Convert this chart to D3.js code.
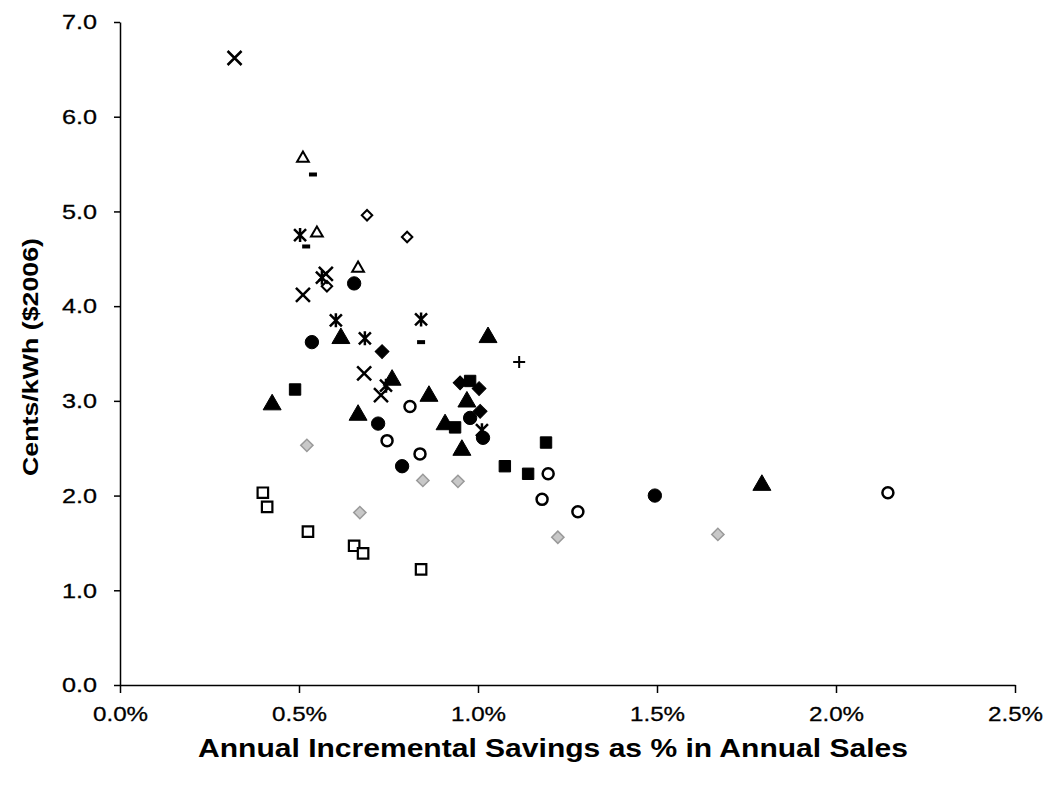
<!DOCTYPE html>
<html>
<head>
<meta charset="utf-8">
<script src="https://cdn.jsdelivr.net/npm/d3@7"></script>
<style>
  body { margin: 0; background: #fff; }
  text { font-family: "Liberation Sans", Arial, sans-serif; }
</style>
</head>
<body>
<div id="chart"></div>
<script>
// x = annual incremental savings (% of sales), y = cents/kWh ($2006)
const crossX = [0.32, 0.511, 0.682, 0.575, 0.729];
const crossY = [6.62, 4.12, 3.29, 4.34, 3.06];
const asteriskX = [0.503, 0.564, 0.603, 0.684, 0.841, 0.743, 1.011];
const asteriskY = [4.75, 4.30, 3.85, 3.66, 3.86, 3.16, 2.69];
const openTriX = [0.511, 0.550, 0.665];
const openTriY = [5.56, 4.77, 4.40];
const dashX = [0.539, 0.520, 0.841];
const dashY = [5.39, 4.63, 3.62];
const openDiaX = [0.690, 0.802, 0.578];
const openDiaY = [4.96, 4.73, 4.21];
const dotX = [0.654, 0.536, 0.721, 0.788, 0.978, 1.014, 1.494];
const dotY = [4.24, 3.62, 2.76, 2.31, 2.82, 2.61, 2.00];
const triX = [0.617, 0.760, 0.863, 1.028, 0.969, 0.908, 0.955, 0.425, 0.665, 1.793];
const triY = [3.66, 3.22, 3.05, 3.67, 2.99, 2.75, 2.48, 2.96, 2.85, 2.11];
const diaX = [0.732, 0.950, 1.003, 1.006];
const diaY = [3.52, 3.19, 3.13, 2.89];
const sqX = [0.489, 0.978, 0.936, 1.190, 1.075, 1.140];
const sqY = [3.12, 3.21, 2.72, 2.56, 2.31, 2.23];
const plusX = [1.115];
const plusY = [3.41];
const ringX = [0.810, 0.746, 0.838, 1.196, 1.179, 1.279, 2.145];
const ringY = [2.94, 2.58, 2.44, 2.23, 1.96, 1.83, 2.03];
const openSqX = [0.399, 0.411, 0.525, 0.654, 0.679, 0.841];
const openSqY = [2.03, 1.88, 1.62, 1.47, 1.39, 1.22];
const grayDiaX = [0.522, 0.846, 0.944, 0.670, 1.670, 1.223];
const grayDiaY = [2.53, 2.16, 2.15, 1.82, 1.59, 1.56];

const xTicks = [0, 0.5, 1.0, 1.5, 2.0, 2.5];
const yTicks = [0, 1, 2, 3, 4, 5, 6, 7];

const width = 1049, height = 788;
const margin = {top: 22, right: 34, bottom: 103, left: 120};

const svg = d3.select("#chart").append("svg")
    .attr("width", width)
    .attr("height", height);

const x = d3.scaleLinear().domain([0, 2.5]).range([margin.left, width - margin.right]);
const y = d3.scaleLinear().domain([0, 7]).range([height - margin.bottom, margin.top]);

// the scanned chart's lettering is wider than Arial, so stretch it
function stretch(sel, k) {
    sel.each(function() {
        const t = d3.select(this);
        t.attr("textLength", this.getComputedTextLength() * k).attr("lengthAdjust", "spacingAndGlyphs");
    });
}

svg.append("g")
    .attr("transform", "translate(0," + (height - margin.bottom) + ")")
    .call(d3.axisBottom(x).tickValues(xTicks).tickSize(8).tickSizeOuter(0).tickPadding(13)
        .tickFormat(d => d.toFixed(1) + "%"))
    .call(g => g.selectAll("text").attr("font-size", 21).attr("fill", "#000")
        .attr("stroke", "#000").attr("stroke-width", 0.3)
        .style("font-family", "Liberation Sans, Arial, sans-serif").call(stretch, 1.15))
    .call(g => g.selectAll("line, path").attr("stroke", "#000").attr("stroke-width", 1.5));

svg.append("g")
    .attr("transform", "translate(" + margin.left + ",0)")
    .call(d3.axisLeft(y).tickValues(yTicks).tickSize(6).tickSizeOuter(0).tickPadding(17)
        .tickFormat(d => d.toFixed(1)))
    .call(g => g.selectAll("text").attr("font-size", 21).attr("fill", "#000")
        .attr("stroke", "#000").attr("stroke-width", 0.3)
        .style("font-family", "Liberation Sans, Arial, sans-serif").call(stretch, 1.2))
    .call(g => g.selectAll("line, path").attr("stroke", "#000").attr("stroke-width", 1.5));

svg.append("text")
    .attr("x", 553)
    .attr("y", 757)
    .attr("text-anchor", "middle")
    .attr("font-size", 26)
    .attr("font-weight", "bold")
    .attr("textLength", 710)
    .attr("lengthAdjust", "spacingAndGlyphs")
    .text("Annual Incremental Savings as % in Annual Sales");

svg.append("text")
    .attr("transform", "rotate(-90)")
    .attr("x", -357)
    .attr("y", 38)
    .attr("text-anchor", "middle")
    .attr("font-size", 22)
    .attr("font-weight", "bold")
    .attr("textLength", 238)
    .attr("lengthAdjust", "spacingAndGlyphs")
    .text("Cents/kWh ($2006)");

const zip = (xs, ys) => xs.map((v, i) => [v, ys[i]]);
const plot = svg.append("g");

function draw(xs, ys, pathStr, fill, stroke, sw, rot) {
    plot.selectAll(null)
        .data(zip(xs, ys))
        .enter().append("path")
        .attr("d", pathStr)
        .attr("transform", d => "translate(" + x(d[0]) + "," + y(d[1]) + ")" + (rot ? " rotate(" + rot + ")" : ""))
        .attr("fill", fill)
        .attr("stroke", stroke)
        .attr("stroke-width", sw);
}

const asteriskPath = "M-6,-6L6,6M6,-6L-6,6M0,-7L0,7";
const dashPath = "M-4,-2H4V2H-4Z";

draw(openSqX, openSqY, d3.symbol(d3.symbolSquare, 110)(), "#fff", "#000", 2.2);
draw(grayDiaX, grayDiaY, d3.symbol(d3.symbolSquare, 75)(), "#c8c8c8", "#999", 1.5, 45);
draw(ringX, ringY, d3.symbol(d3.symbolCircle, 95)(), "#fff", "#000", 2.5);
draw(openDiaX, openDiaY, d3.symbol(d3.symbolSquare, 55)(), "#fff", "#000", 2, 45);
draw(openTriX, openTriY, d3.symbol(d3.symbolTriangle, 60)(), "#fff", "#000", 2);
draw(sqX, sqY, d3.symbol(d3.symbolSquare, 130)(), "#000", "#000", 1);
draw(triX, triY, d3.symbol(d3.symbolTriangle, 140)(), "#000", "#000", 1);
draw(dotX, dotY, d3.symbol(d3.symbolCircle, 140)(), "#000", "#000", 1);
draw(diaX, diaY, d3.symbol(d3.symbolSquare, 95)(), "#000", "#000", 1, 45);
draw(dashX, dashY, dashPath, "#000", "none", 0);
draw(plusX, plusY, "M-6,0H6M0,-6V6", "none", "#000", 2);
draw(crossX, crossY, "M-7,-7L7,7M7,-7L-7,7", "none", "#000", 2.5);
draw(asteriskX, asteriskY, asteriskPath, "none", "#000", 2.5);
</script>
</body>
</html>
